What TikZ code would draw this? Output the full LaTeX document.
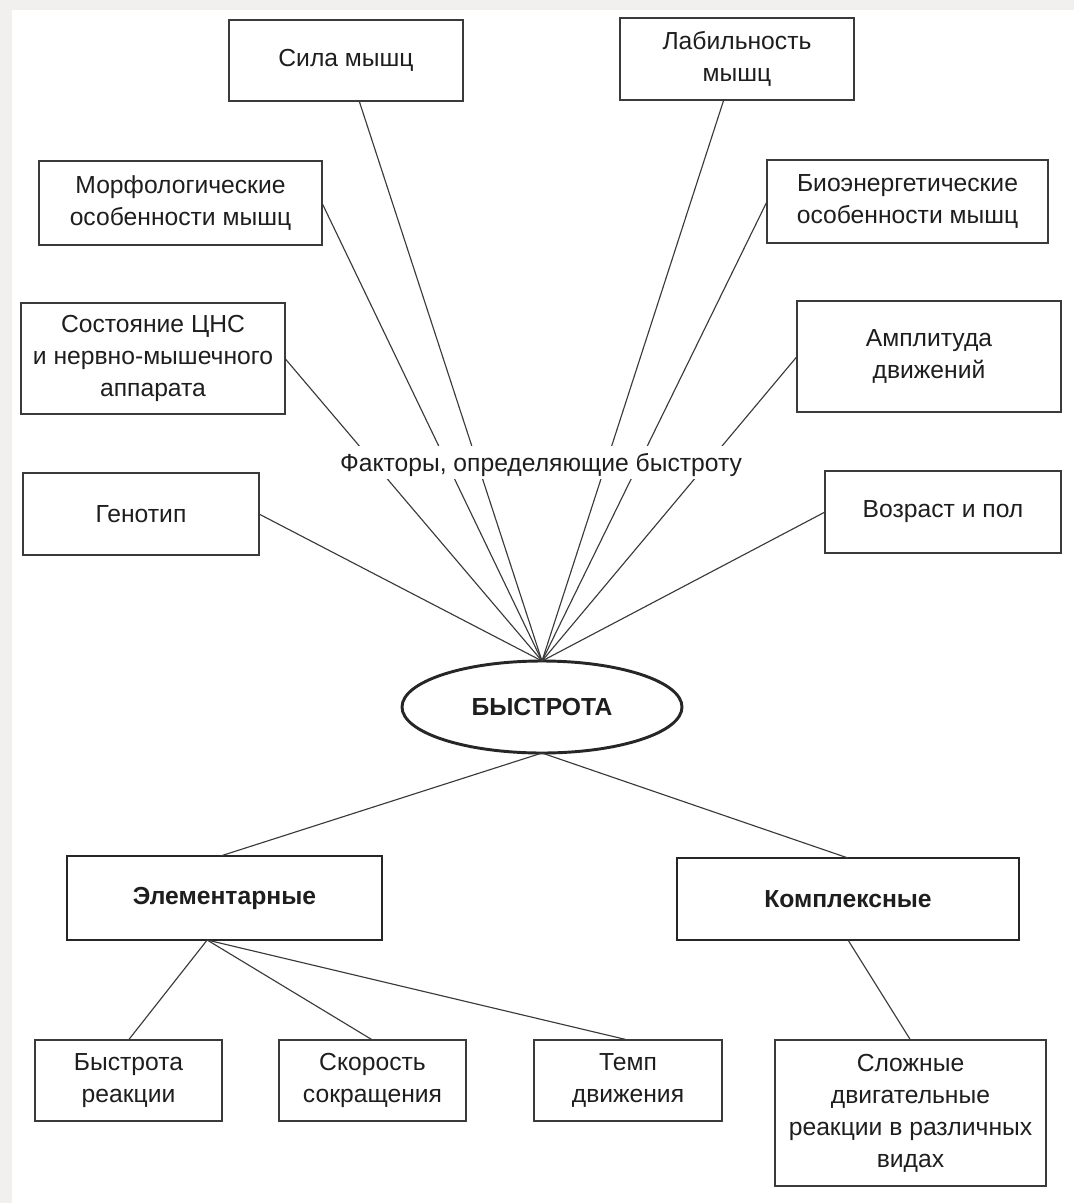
\documentclass[tikz,border=0pt]{standalone}
\usepackage{fontspec}
\setmainfont{Liberation Sans}
\usetikzlibrary{shapes.geometric}
\definecolor{linegray}{HTML}{3A3A3A}
\definecolor{txt}{HTML}{1E1E1E}
\definecolor{bgstrip}{HTML}{F1F0EE}
\begin{document}
\begin{tikzpicture}[x=0.75pt,y=-0.75pt,
  every node/.style={font=\fontsize{18.5}{24}\selectfont, text=txt, align=center, inner sep=0pt, outer sep=0pt},
  fbox/.style={draw=linegray, line width=1.1pt, rectangle},
  hbox/.style={draw=black!85, line width=2.2pt, rectangle, font=\fontsize{18.5}{24}\selectfont\bfseries},
  conn/.style={draw=linegray, line width=0.85pt}]
\useasboundingbox (0,0) rectangle (1074,1203);
\fill[bgstrip] (0,0) rectangle (1074,1203);
\fill[white] (12,10) rectangle (1074,1203);

% factor boxes
\node[fbox, minimum width=175.5pt, minimum height=60.75pt] (sila) at (346,60.5) {Сила мышц};
\node[fbox, minimum width=175.5pt, minimum height=61.5pt] (lab) at (737,59) {Лабильность\\мышц};
\node[fbox, minimum width=212.25pt, minimum height=63pt] (morf) at (180.5,203) {Морфологические\\особенности мышц};
\node[fbox, minimum width=210.75pt, minimum height=62.25pt] (bio) at (907.5,201.5) {Биоэнергетические\\особенности мышц};
\node[fbox, minimum width=198pt, minimum height=83.25pt] (cns) at (153,358.5) {Состояние ЦНС\\и нервно-мышечного\\аппарата};
\node[fbox, minimum width=198pt, minimum height=83.25pt] (ampl) at (929,356.5) {Амплитуда\\движений};
\node[fbox, minimum width=177pt, minimum height=61.5pt] (gen) at (141,514) {Генотип};
\node[fbox, minimum width=177pt, minimum height=61.5pt] (voz) at (943,512) {Возраст и пол};

% central ellipse
\node[ellipse, draw=black!85, line width=2.2pt, minimum width=210pt, minimum height=69pt, font=\fontsize{18.5}{24}\selectfont\bfseries] (bys) at (542,707) {БЫСТРОТА};

% second level
\node[hbox, minimum width=236.25pt, minimum height=63pt] (elem) at (224.5,898) {Элементарные};
\node[hbox, minimum width=256.5pt, minimum height=61.5pt] (kompl) at (848,899) {Комплексные};

% third level
\node[fbox, minimum width=140.25pt, minimum height=60.75pt] (br) at (128.5,1080.5) {Быстрота\\реакции};
\node[fbox, minimum width=140.25pt, minimum height=60.75pt] (sk) at (372.5,1080.5) {Скорость\\сокращения};
\node[fbox, minimum width=141pt, minimum height=60.75pt] (temp) at (628,1080.5) {Темп\\движения};
\node[fbox, minimum width=203.25pt, minimum height=109.5pt] (slozh) at (910.5,1113) {Сложные\\двигательные\\реакции в различных\\видах};

% connectors to factors
\coordinate (top) at (bys.north);
\draw[conn] (top) -- (sila);
\draw[conn] (top) -- (lab);
\draw[conn] (top) -- (morf.east);
\draw[conn] (top) -- (bio.west);
\draw[conn] (top) -- (cns.east);
\draw[conn] (top) -- (ampl.west);
\draw[conn] (top) -- (gen.east);
\draw[conn] (top) -- (voz.west);

% label over the fan of lines
\node[fill=white, anchor=base, text height=16pt, text depth=3pt, inner xsep=2pt, inner ysep=3pt] (lbl) at (541,471) {Факторы, определяющие быстроту};

% lower connectors
\draw[conn] (bys.south) -- ([xshift=-3pt]elem.north);
\draw[conn] (bys.south) -- (kompl.north);
\coordinate (es) at ([xshift=-13pt]elem.south);
\draw[conn] (es) -- (br.north);
\draw[conn] (es) -- (sk.north);
\draw[conn] (es) -- (temp.north);
\draw[conn] (kompl.south) -- (slozh.north);
\end{tikzpicture}
\end{document}
